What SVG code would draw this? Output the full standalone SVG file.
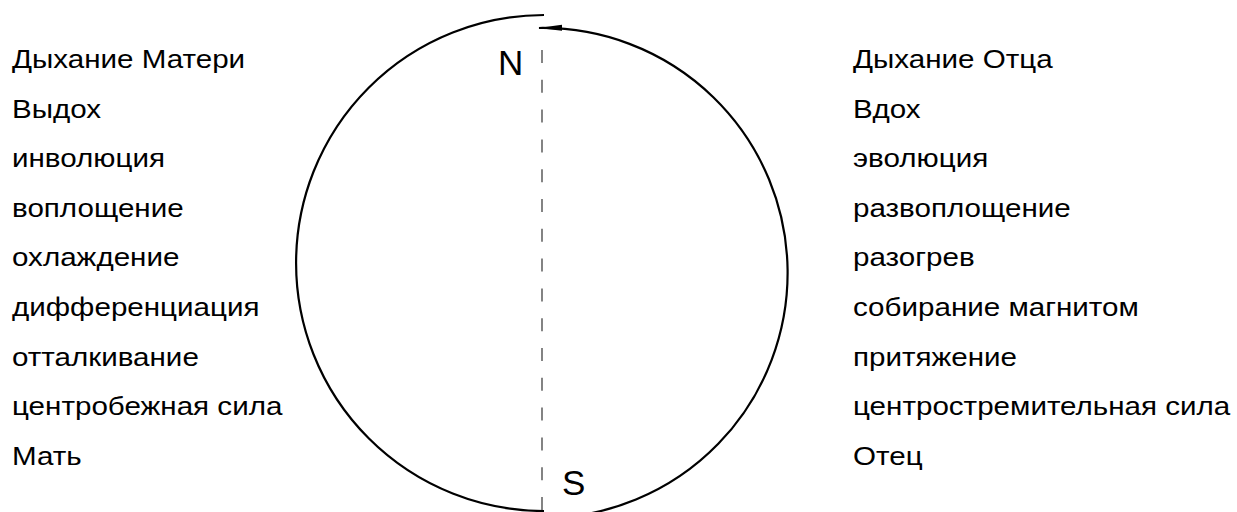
<svg xmlns="http://www.w3.org/2000/svg" width="1237" height="512" viewBox="0 0 1237 512">
<style>
.t{font-family:"Liberation Sans",Arial,sans-serif;font-size:25.5px;fill:#000}
.pole{font-family:"Liberation Sans",Arial,sans-serif;font-size:35px;fill:#000}
.arc{fill:none;stroke:#000;stroke-width:2.2}
.axis{fill:none;stroke:#333;stroke-width:1.2;stroke-dasharray:13 16.8}
</style>
<defs>
<marker id="ah" viewBox="0 0 24 8" refX="23" refY="4" markerWidth="24" markerHeight="8" markerUnits="userSpaceOnUse" orient="auto">
<path d="M0,1 L24,4 L0,7 Z" fill="#000"/>
</marker>
</defs>
<rect width="1237" height="512" fill="#fff"/>
<g id="connectors">
<path class="arc" d="M544,15 A248,248 0 0 0 544,511"/>
<path class="arc" d="M546,518 A245,245 0 1 0 539,28" marker-end="url(#ah)"/>
<line class="axis" x1="542" y1="50" x2="542" y2="512"/>
</g>
<g id="pole-n"><text class="pole" x="498" y="75">N</text></g>
<g id="pole-s"><text class="pole" x="562" y="495">S</text></g>
<g id="mother" transform="translate(12 0) scale(1.16 1)">
<text class="t" x="0" y="68">Дыхание Матери</text>
<text class="t" x="0" y="117.6">Выдох</text>
<text class="t" x="0" y="167.2">инволюция</text>
<text class="t" x="0" y="216.8">воплощение</text>
<text class="t" x="0" y="266.4">охлаждение</text>
<text class="t" x="0" y="316">дифференциация</text>
<text class="t" x="0" y="365.6">отталкивание</text>
<text class="t" x="0" y="415.2">центробежная сила</text>
<text class="t" x="0" y="464.8">Мать</text>
</g>
<g id="father" transform="translate(853 0) scale(1.16 1)">
<text class="t" x="0" y="68">Дыхание Отца</text>
<text class="t" x="0" y="117.6">Вдох</text>
<text class="t" x="0" y="167.2">эволюция</text>
<text class="t" x="0" y="216.8">развоплощение</text>
<text class="t" x="0" y="266.4">разогрев</text>
<text class="t" x="0" y="316">собирание магнитом</text>
<text class="t" x="0" y="365.6">притяжение</text>
<text class="t" x="0" y="415.2">центростремительная сила</text>
<text class="t" x="0" y="464.8">Отец</text>
</g>
</svg>
